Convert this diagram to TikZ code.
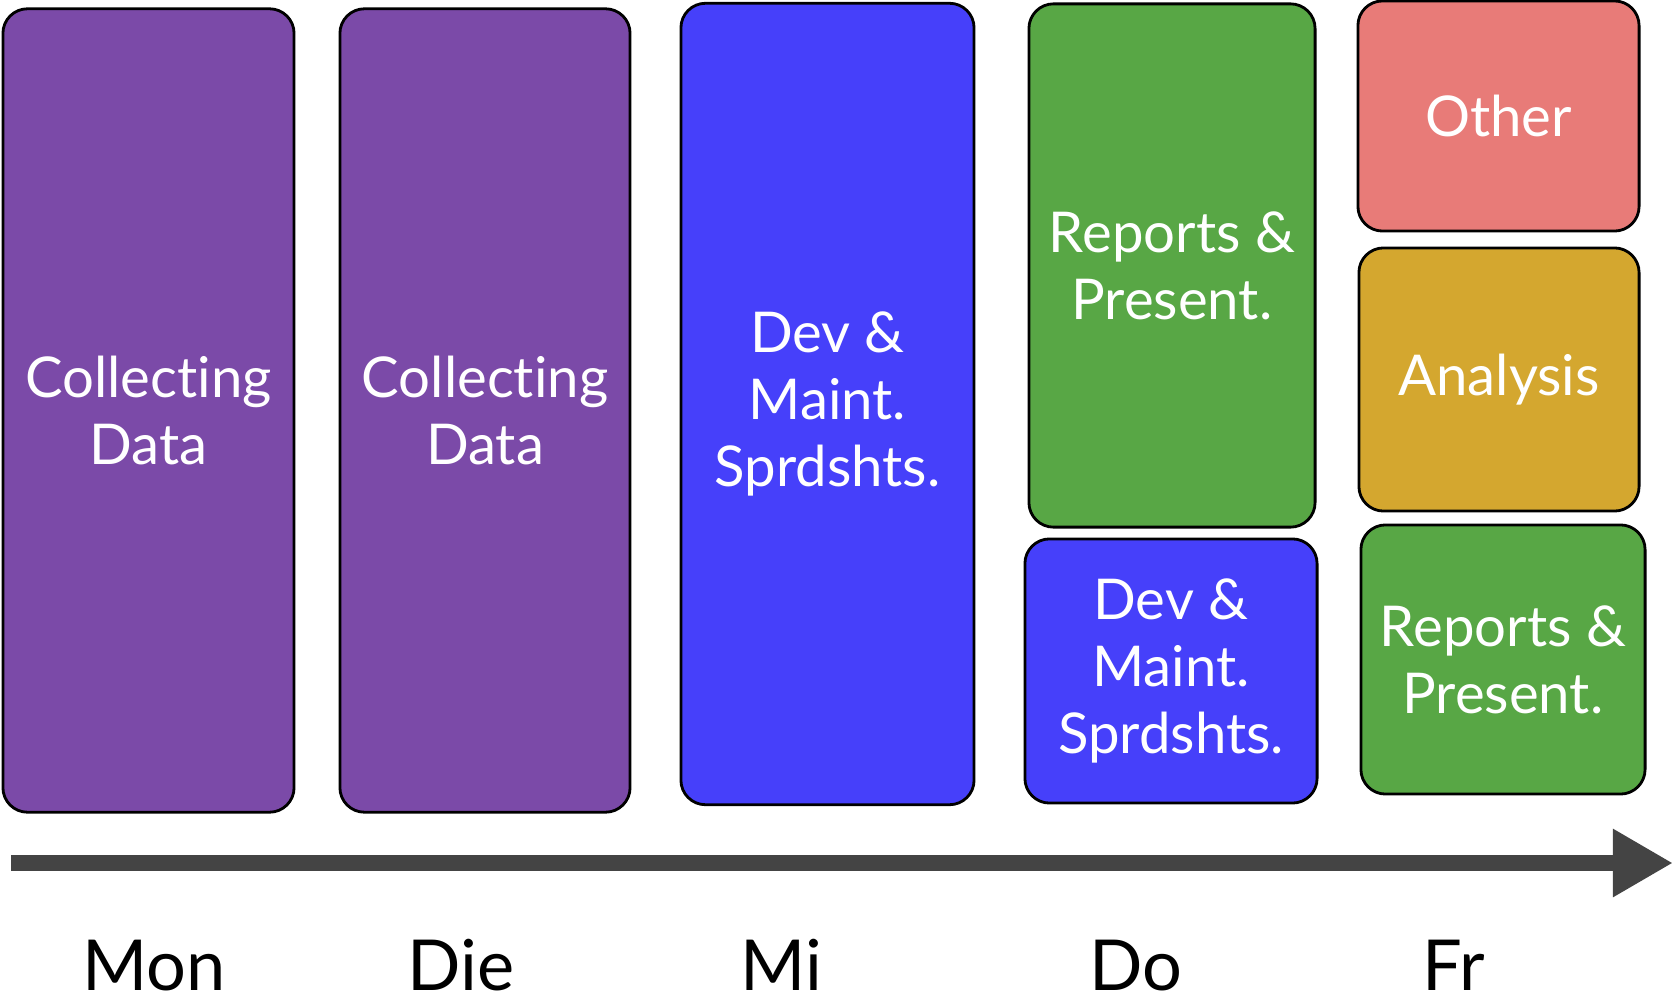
\documentclass[tikz,border=0pt]{standalone}
\usepackage{fontspec}
\setmainfont{Lato}[Ligatures=NoCommon]
\usetikzlibrary{arrows.meta}
\definecolor{collect}{RGB}{123,74,168}
\definecolor{devblue}{RGB}{70,64,250}
\definecolor{repgreen}{RGB}{88,167,69}
\definecolor{othred}{RGB}{232,123,120}
\definecolor{anagold}{RGB}{212,167,47}
\definecolor{axisgray}{RGB}{68,68,68}
\begin{document}
\begin{tikzpicture}[x=0.01cm,y=-0.01cm]

\tikzset{block/.style={draw=black,line width=0.8pt,rounded corners=7pt,text=white,align=center,font=\fontsize{16}{19}\selectfont,inner sep=0pt}}
\tikzset{arrow/.style={draw=axisgray,line width=4.8pt,-{Triangle[length=6mm,width=6.4mm]}}}
\tikzset{day/.style={anchor=base,font=\fontsize{20}{24}\selectfont}}

\useasboundingbox (0,0) rectangle (1675,1000);

\node[block,fill=collect,minimum width=2.91cm,minimum height=8.03cm] (mon) at (148.5, 410.5) {Collecting\\Data};
\node[block,fill=collect,minimum width=2.90cm,minimum height=8.03cm] (die) at (485, 410.5) {Collecting\\Data};
\node[block,fill=devblue,minimum width=2.93cm,minimum height=8.01cm] (mi) at (827.5, 404) {Dev \&\\Maint.\\Sprdshts.};
\node[block,fill=repgreen,minimum width=2.86cm,minimum height=5.23cm] (do1) at (1172, 265.5) {Reports \&\\Present.};
\node[block,fill=devblue,minimum width=2.92cm,minimum height=2.64cm] (do2) at (1171, 671) {Dev \&\\Maint.\\Sprdshts.};
\node[block,fill=othred,minimum width=2.81cm,minimum height=2.30cm] (fr1) at (1498.5, 116) {Other};
\node[block,fill=anagold,minimum width=2.80cm,minimum height=2.63cm] (fr2) at (1499, 379.5) {Analysis};
\node[block,fill=repgreen,minimum width=2.84cm,minimum height=2.69cm] (fr3) at (1503, 659.5) {Reports \&\\Present.};

\coordinate (t0) at (11, 863);
\coordinate (t1) at (1673, 863);
\draw[arrow] (t0) -- (t1);

\node[day] (lmon) at (154, 990) {Mon};
\node[day] (ldie) at (461, 990) {Die};
\node[day] (lmi) at (781, 990) {Mi};
\node[day] (ldo) at (1136, 990) {Do};
\node[day] (lfr) at (1454, 990) {Fr};

\end{tikzpicture}
\end{document}
